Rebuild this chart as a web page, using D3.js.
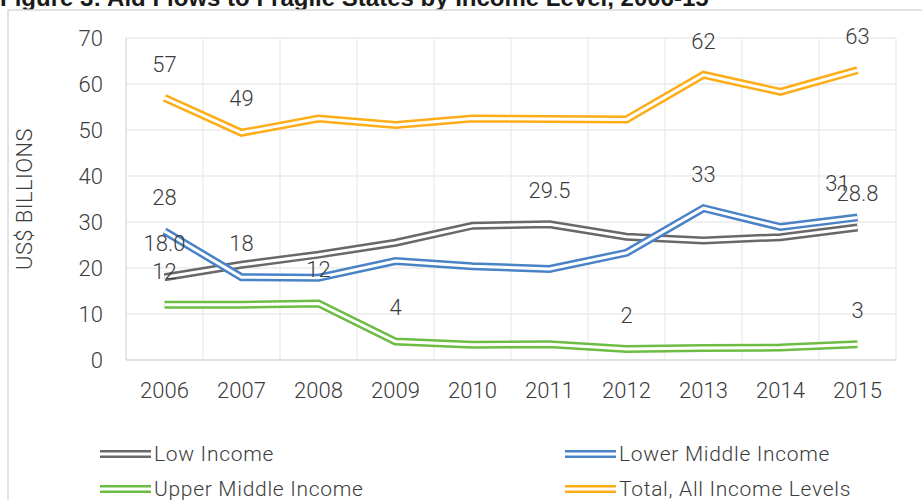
<!DOCTYPE html>
<html>
<head>
<meta charset="utf-8">
<script src="https://cdn.jsdelivr.net/npm/d3@7"></script>
<style>
  html, body { margin: 0; padding: 0; background: #fff; }
  svg { display: block; }
  .lt { font-family: "Roboto", "Liberation Sans", sans-serif; font-weight: 300; fill: #3c3c3c; }
</style>
</head>
<body>
<svg id="chart" width="922" height="500"></svg>
<script>
// Aid flows to fragile states, US$ billions
const years = ["2006","2007","2008","2009","2010","2011","2012","2013","2014","2015"];
const lowIncome         = [18.0, 20.7, 22.9, 25.5, 29.2, 29.5, 26.8, 26.0, 26.7, 28.8];
const lowerMiddleIncome = [28, 18, 17.9, 21.5, 20.4, 19.8, 23.3, 33, 28.9, 31];
const upperMiddleIncome = [12, 12, 12.3, 4, 3.3, 3.4, 2.4, 2.6, 2.7, 3.4];
const totalAllIncome    = [57, 49.4, 52.5, 51.1, 52.5, 52.4, 52.3, 62, 58.3, 63];
const yTicks = [0, 10, 20, 30, 40, 50, 60, 70];

const seriesNames  = ["Low Income", "Lower Middle Income", "Upper Middle Income", "Total, All Income Levels"];
const seriesValues = [lowIncome, lowerMiddleIncome, upperMiddleIncome, totalAllIncome];
const seriesColors = ["#686868", "#4a82c6", "#6dbd45", "#fdad18"];

// data labels: [series index, year index, number format]
const labelPoints = [
  [3, 0, ".0f"], [3, 1, ".0f"], [3, 7, ".0f"], [3, 9, ".0f"],
  [1, 0, ".0f"], [1, 1, ".0f"], [1, 7, ".0f"], [1, 9, ".0f"],
  [0, 0, ".1f"], [0, 5, ".1f"], [0, 9, ".1f"],
  [2, 0, ".0f"], [2, 2, ".0f"], [2, 3, ".0f"], [2, 6, ".0f"], [2, 9, ".0f"]
];

const svg = d3.select("#chart");

// title (runs off the top edge)
svg.append("text")
  .attr("x", 0).attr("y", 6)
  .style("font-family", "'Liberation Sans', Arial, sans-serif")
  .style("font-weight", "bold").style("font-size", "24px").style("fill", "#1a1a1a")
  .text("Figure 3: Aid Flows to Fragile States by Income Level, 2006-15");

// chart frame
svg.append("rect")
  .attr("x", 8).attr("y", 10).attr("width", 930).attr("height", 510)
  .attr("fill", "#fff").attr("stroke", "#d9d9d9").attr("stroke-width", 1.5);

const x = d3.scaleBand().domain(years).range([126, 896]).padding(0);
const y = d3.scaleLinear().domain([0, 70]).range([360, 38]);
const cx = d => x(d) + x.bandwidth() / 2;

// horizontal gridlines
svg.append("g").selectAll("line").data(yTicks.filter(t => t > 0)).join("line")
  .attr("x1", x.range()[0]).attr("x2", x.range()[1])
  .attr("y1", d => y(d)).attr("y2", d => y(d))
  .attr("stroke", "#ebebeb").attr("stroke-width", 1.3);

// vertical gridlines at category boundaries
const edges = d3.range(years.length + 1).map(i => x.range()[0] + i * x.step());
svg.append("g").selectAll("line").data(edges).join("line")
  .attr("x1", d => d).attr("x2", d => d)
  .attr("y1", y(70)).attr("y2", y(0))
  .attr("stroke", (d, i) => i === 0 ? "#d9d9d9" : "#ebebeb").attr("stroke-width", 1.3);

// baseline
svg.append("line")
  .attr("x1", x.range()[0]).attr("x2", x.range()[1])
  .attr("y1", y(0)).attr("y2", y(0))
  .attr("stroke", "#d9d9d9").attr("stroke-width", 1.3);

// y tick labels
svg.append("g").selectAll("text").data(yTicks).join("text")
  .attr("class", "lt")
  .attr("x", 103).attr("y", d => y(d)).attr("dy", "0.35em")
  .attr("text-anchor", "end")
  .style("font-size", "22px")
  .text(d => d);

// x tick labels
svg.append("g").selectAll("text").data(years).join("text")
  .attr("class", "lt")
  .attr("x", d => cx(d)).attr("y", 398)
  .attr("text-anchor", "middle")
  .style("font-size", "22px")
  .text(d => d);

// y axis title
svg.append("text")
  .attr("class", "lt")
  .attr("transform", `translate(32, ${(y(0) + y(70)) / 2}) rotate(-90)`)
  .attr("text-anchor", "middle")
  .style("font-size", "22px")
  .style("letter-spacing", "0.4px")
  .text("US$ BILLIONS");

// double-stroke line: coloured wide stroke with a white core
const line = d3.line().x((d, i) => cx(years[i])).y(d => y(d)).curve(d3.curveLinear);
const order = [3, 2, 0, 1];
order.forEach(s => {
  const g = svg.append("g");
  g.append("path").attr("d", line(seriesValues[s]))
    .attr("fill", "none").attr("stroke", seriesColors[s])
    .attr("stroke-width", 8).attr("stroke-linejoin", "miter");
  g.append("path").attr("d", line(seriesValues[s]))
    .attr("fill", "none").attr("stroke", "#fff")
    .attr("stroke-width", 3).attr("stroke-linejoin", "miter");
});

// data labels above points
svg.append("g").selectAll("text").data(labelPoints).join("text")
  .attr("class", "lt")
  .attr("x", d => cx(years[d[1]]) + (d[0] === 1 && d[1] === 9 ? -20 : 0))
  .attr("y", d => y(seriesValues[d[0]][d[1]]) - 34)
  .attr("dy", "0.35em")
  .attr("text-anchor", "middle")
  .style("font-size", "22px")
  .text(d => d3.format(d[2])(seriesValues[d[0]][d[1]]));

// legend
const legendPos = [[100, 454], [565, 454], [100, 489], [565, 489]];
seriesNames.forEach((name, i) => {
  const [lx, ly] = legendPos[i];
  const g = svg.append("g").attr("transform", `translate(${lx},${ly})`);
  g.append("line").attr("x1", 0).attr("x2", 51).attr("y1", 0).attr("y2", 0)
    .attr("stroke", seriesColors[i]).attr("stroke-width", 8);
  g.append("line").attr("x1", 0).attr("x2", 51).attr("y1", 0).attr("y2", 0)
    .attr("stroke", "#fff").attr("stroke-width", 3);
  g.append("text").attr("class", "lt")
    .attr("x", 54).attr("y", 0).attr("dy", "0.35em")
    .style("font-size", "21px")
    .style("letter-spacing", "0.7px")
    .text(name);
});
</script>
</body>
</html>
